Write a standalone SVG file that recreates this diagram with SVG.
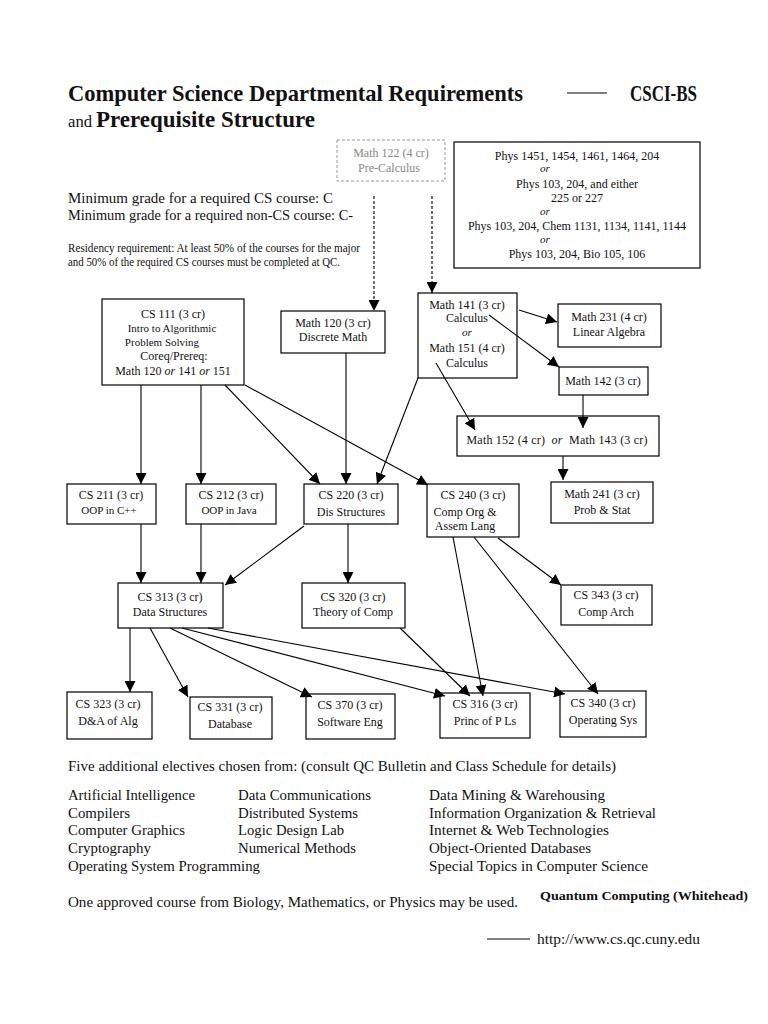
<svg xmlns="http://www.w3.org/2000/svg" width="768" height="1024" viewBox="0 0 768 1024">
<defs>
<marker id="ah" viewBox="0 0 10 10" refX="10" refY="5" markerWidth="11" markerHeight="11" markerUnits="userSpaceOnUse" orient="auto"><path d="M0,0 L10,5 L0,10 z" fill="#000"/></marker>
</defs>
<style>
text{font-family:"Liberation Serif","Times New Roman",serif;fill:#111}
.t{font-size:12px;text-anchor:middle}
.s{font-size:11px;text-anchor:middle}
.i{font-style:italic}
.b{fill:#fff;stroke:#000;stroke-width:1.2}
.c{fill:none;stroke:#000;stroke-width:1.1;marker-end:url(#ah)}
.d{fill:none;stroke:#000;stroke-width:1.1;stroke-dasharray:3,2;marker-end:url(#ah)}
.body{font-size:15px}
</style>
<rect width="768" height="1024" fill="#fff"/>
<g id="header">
<text x="68" y="101" style="font-size:23px;font-weight:bold" textLength="455" lengthAdjust="spacingAndGlyphs">Computer Science Departmental Requirements</text>
<line x1="567" y1="93" x2="607" y2="93" stroke="#000" stroke-width="1.2"/>
<text x="630" y="101" style="font-size:23px;font-weight:bold" textLength="67" lengthAdjust="spacingAndGlyphs">CSCI-BS</text>
<text x="68" y="127" style="font-size:16px" textLength="24" lengthAdjust="spacingAndGlyphs">and</text>
<text x="96" y="127" style="font-size:23px;font-weight:bold" textLength="219" lengthAdjust="spacingAndGlyphs">Prerequisite Structure</text>
<text x="68" y="203" style="font-size:14.5px" textLength="265" lengthAdjust="spacingAndGlyphs">Minimum grade for a required CS course: C</text>
<text x="68" y="220" style="font-size:14.5px" textLength="285" lengthAdjust="spacingAndGlyphs">Minimum grade for a required non-CS course: C-</text>
<text x="68" y="252" style="font-size:11.5px" textLength="292" lengthAdjust="spacingAndGlyphs">Residency requirement: At least 50% of the courses for the major</text>
<text x="68" y="266" style="font-size:11.5px" textLength="272" lengthAdjust="spacingAndGlyphs">and 50% of the required CS courses must be completed at QC.</text>
</g>
<g id="math122">
<rect x="337" y="140" width="108" height="41" fill="#fff" stroke="#999" stroke-width="1" stroke-dasharray="3,2"/>
<text class="t" x="391" y="157" style="fill:#888">Math 122 (4 cr)</text>
<text class="t" x="389" y="172" style="fill:#888">Pre-Calculus</text>
</g>
<g id="phys">
<rect class="b" x="454" y="142" width="246" height="126"/>
<text class="t" x="577" y="160">Phys 1451, 1454, 1461, 1464, 204</text>
<text class="s i" x="545" y="172">or</text>
<text class="t" x="577" y="188">Phys 103, 204, and either</text>
<text class="t" x="577" y="202">225 or 227</text>
<text class="s i" x="545" y="215">or</text>
<text class="t" x="577" y="230">Phys 103, 204, Chem 1131, 1134, 1141, 1144</text>
<text class="s i" x="545" y="243">or</text>
<text class="t" x="577" y="258">Phys 103, 204, Bio 105, 106</text>
</g>
<g id="cs111">
<rect class="b" x="102" y="299" width="142" height="86"/>
<text class="t" x="173" y="318">CS 111 (3 cr)</text>
<text class="s" x="172" y="332">Intro to Algorithmic</text>
<text class="s" x="162" y="346">Problem Solving</text>
<text class="t" x="174" y="360">Coreq/Prereq:</text>
<text class="t" x="173" y="375">Math 120 <tspan class="i">or</tspan> 141 <tspan class="i">or</tspan> 151</text>
</g>
<g id="math120">
<rect class="b" x="281" y="311" width="104" height="42"/>
<text class="t" x="333" y="327">Math 120 (3 cr)</text>
<text class="t" x="333" y="341">Discrete Math</text>
</g>
<g id="math141">
<rect class="b" x="418" y="293" width="99" height="85"/>
<text class="t" x="467" y="309">Math 141 (3 cr)</text>
<text class="t" x="467" y="322">Calculus</text>
<text class="s i" x="467" y="336">or</text>
<text class="t" x="467" y="352">Math 151 (4 cr)</text>
<text class="t" x="467" y="367">Calculus</text>
</g>
<g id="math231">
<rect class="b" x="558" y="304" width="103" height="43"/>
<text class="t" x="609" y="321">Math 231 (4 cr)</text>
<text class="t" x="609" y="336">Linear Algebra</text>
</g>
<g id="math142">
<rect class="b" x="559" y="367" width="89" height="28"/>
<text class="t" x="603" y="385">Math 142 (3 cr)</text>
</g>
<g id="math152">
<rect class="b" x="457" y="416" width="202" height="40"/>
<text class="t" x="557" y="444" textLength="181" lengthAdjust="spacing">Math 152 (4 cr)&#160;&#160;<tspan class="i">or</tspan>&#160;&#160;Math 143 (3 cr)</text>
</g>
<g id="math241">
<rect class="b" x="551" y="482" width="102" height="41"/>
<text class="t" x="602" y="498">Math 241 (3 cr)</text>
<text class="t" x="602" y="514">Prob &amp; Stat</text>
</g>
<g id="cs211">
<rect class="b" x="67" y="484" width="89" height="40"/>
<text class="t" x="111" y="499">CS 211 (3 cr)</text>
<text class="s" x="109" y="514">OOP in C++</text>
</g>
<g id="cs212">
<rect class="b" x="186" y="484" width="90" height="40"/>
<text class="t" x="231" y="499">CS 212 (3 cr)</text>
<text class="s" x="229" y="514">OOP in Java</text>
</g>
<g id="cs220">
<rect class="b" x="304" y="484" width="94" height="40"/>
<text class="t" x="351" y="499">CS 220 (3 cr)</text>
<text class="t" x="351" y="516">Dis Structures</text>
</g>
<g id="cs240">
<rect class="b" x="427" y="484" width="92" height="53"/>
<text class="t" x="473" y="499">CS 240 (3 cr)</text>
<text class="t" x="465" y="516">Comp Org &amp;</text>
<text class="t" x="465" y="530">Assem Lang</text>
</g>
<g id="cs313">
<rect class="b" x="118" y="583" width="105" height="45"/>
<text class="t" x="170" y="601">CS 313 (3 cr)</text>
<text class="t" x="170" y="616">Data Structures</text>
</g>
<g id="cs320">
<rect class="b" x="302" y="583" width="103" height="45"/>
<text class="t" x="353" y="601">CS 320 (3 cr)</text>
<text class="t" x="353" y="616">Theory of Comp</text>
</g>
<g id="cs343">
<rect class="b" x="561" y="585" width="91" height="40"/>
<text class="t" x="606" y="599">CS 343 (3 cr)</text>
<text class="t" x="606" y="616">Comp Arch</text>
</g>
<g id="cs323">
<rect class="b" x="67" y="692" width="85" height="47"/>
<text class="t" x="108" y="708">CS 323 (3 cr)</text>
<text class="t" x="108" y="725">D&amp;A of Alg</text>
</g>
<g id="cs331">
<rect class="b" x="190" y="697" width="82" height="42"/>
<text class="t" x="230" y="711">CS 331 (3 cr)</text>
<text class="t" x="230" y="728">Database</text>
</g>
<g id="cs370">
<rect class="b" x="306" y="694" width="89" height="45"/>
<text class="t" x="350" y="709">CS 370 (3 cr)</text>
<text class="t" x="350" y="726">Software Eng</text>
</g>
<g id="cs316">
<rect class="b" x="440" y="693" width="90" height="45"/>
<text class="t" x="485" y="708">CS 316 (3 cr)</text>
<text class="t" x="485" y="725">Princ of P Ls</text>
</g>
<g id="cs340">
<rect class="b" x="560" y="691" width="86" height="46"/>
<text class="t" x="603" y="707">CS 340 (3 cr)</text>
<text class="t" x="603" y="724">Operating Sys</text>
</g>
<g id="connectors">
<line class="d" x1="374" y1="196" x2="374" y2="311"/>
<line class="d" x1="432" y1="196" x2="432" y2="293"/>
<line class="c" x1="141" y1="385" x2="141" y2="484"/>
<line class="c" x1="201" y1="385" x2="201" y2="484"/>
<line class="c" x1="225" y1="385" x2="320" y2="484"/>
<line class="c" x1="245" y1="385" x2="428" y2="485"/>
<line class="c" x1="346" y1="353" x2="346" y2="484"/>
<line class="c" x1="418" y1="378" x2="377" y2="484"/>
<line class="c" x1="519" y1="310" x2="557" y2="322"/>
<line class="c" x1="489" y1="315" x2="559" y2="367"/>
<line class="c" x1="436" y1="363" x2="475" y2="430"/>
<line class="c" x1="583" y1="395" x2="583" y2="428"/>
<line class="c" x1="563" y1="456" x2="563" y2="480"/>
<line class="c" x1="141" y1="524" x2="141" y2="583"/>
<line class="c" x1="201" y1="524" x2="201" y2="583"/>
<line class="c" x1="304" y1="526" x2="225" y2="585"/>
<line class="c" x1="348" y1="524" x2="348" y2="583"/>
<line class="c" x1="498" y1="538" x2="561" y2="585"/>
<line class="c" x1="453" y1="537" x2="483" y2="696"/>
<line class="c" x1="474" y1="537" x2="598" y2="694"/>
<line class="c" x1="400" y1="628" x2="470" y2="696"/>
<line class="c" x1="130" y1="628" x2="130" y2="692"/>
<line class="c" x1="150" y1="628" x2="188" y2="697"/>
<line class="c" x1="170" y1="628" x2="312" y2="697"/>
<line class="c" x1="182" y1="628" x2="445" y2="696"/>
<line class="c" x1="208" y1="628" x2="565" y2="694"/>
</g>
<g id="footer">
<text class="body" x="68" y="771" textLength="548" lengthAdjust="spacingAndGlyphs">Five additional electives chosen from: (consult QC Bulletin and Class Schedule for details)</text>
<text class="body" x="68" y="800" textLength="127" lengthAdjust="spacingAndGlyphs">Artificial Intelligence</text>
<text class="body" x="68" y="818" textLength="62" lengthAdjust="spacingAndGlyphs">Compilers</text>
<text class="body" x="68" y="835" textLength="117" lengthAdjust="spacingAndGlyphs">Computer Graphics</text>
<text class="body" x="68" y="853" textLength="83" lengthAdjust="spacingAndGlyphs">Cryptography</text>
<text class="body" x="68" y="871" textLength="192" lengthAdjust="spacingAndGlyphs">Operating System Programming</text>
<text class="body" x="238" y="800" textLength="133" lengthAdjust="spacingAndGlyphs">Data Communications</text>
<text class="body" x="238" y="818" textLength="120" lengthAdjust="spacingAndGlyphs">Distributed Systems</text>
<text class="body" x="238" y="835" textLength="106" lengthAdjust="spacingAndGlyphs">Logic Design Lab</text>
<text class="body" x="238" y="853" textLength="118" lengthAdjust="spacingAndGlyphs">Numerical Methods</text>
<text class="body" x="429" y="800" textLength="176" lengthAdjust="spacingAndGlyphs">Data Mining &amp; Warehousing</text>
<text class="body" x="429" y="818" textLength="227" lengthAdjust="spacingAndGlyphs">Information Organization &amp; Retrieval</text>
<text class="body" x="429" y="835" textLength="180" lengthAdjust="spacingAndGlyphs">Internet &amp; Web Technologies</text>
<text class="body" x="429" y="853" textLength="162" lengthAdjust="spacingAndGlyphs">Object-Oriented Databases</text>
<text class="body" x="429" y="871" textLength="219" lengthAdjust="spacingAndGlyphs">Special Topics in Computer Science</text>
<text class="body" x="68" y="907" textLength="450" lengthAdjust="spacingAndGlyphs">One approved course from Biology, Mathematics, or Physics may be used.</text>
<text x="540" y="900" style="font-size:12px;font-weight:bold" textLength="208" lengthAdjust="spacingAndGlyphs">Quantum Computing (Whitehead)</text>
<line x1="487" y1="939" x2="530" y2="939" stroke="#000" stroke-width="1"/>
<text class="body" x="537" y="944" textLength="163" lengthAdjust="spacingAndGlyphs">http://www.cs.qc.cuny.edu</text>
</g>
</svg>
